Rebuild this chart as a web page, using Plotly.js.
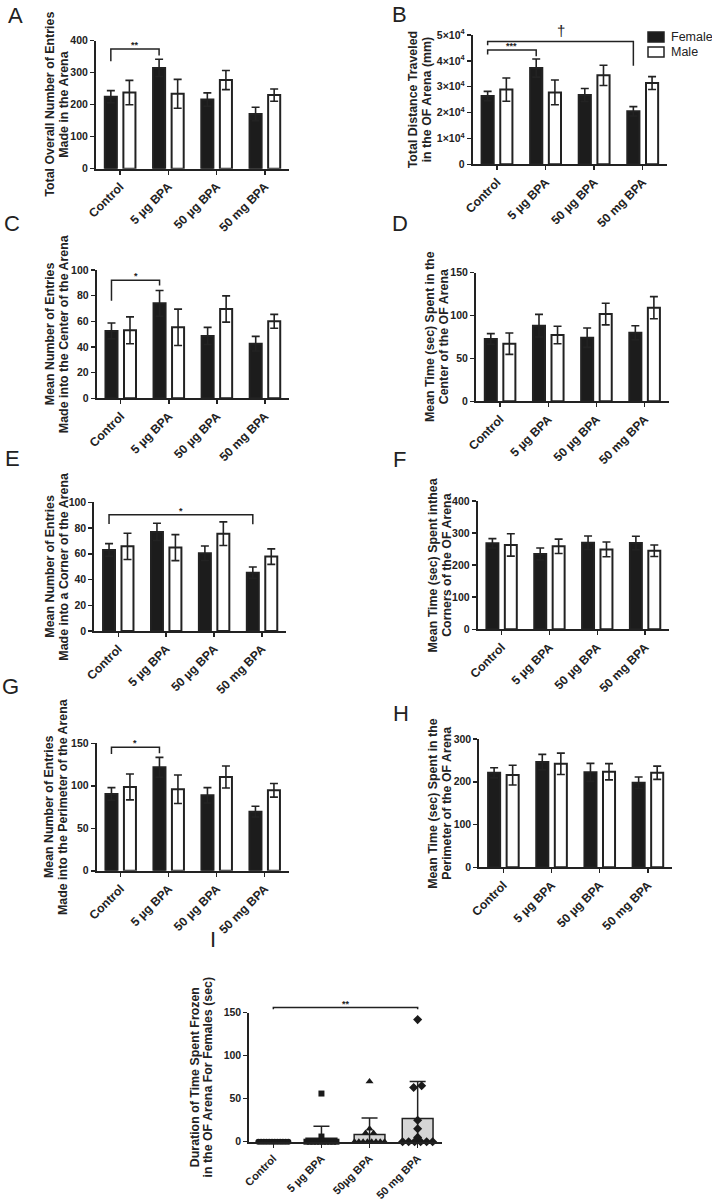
<!DOCTYPE html>
<html><head><meta charset="utf-8">
<script src="https://cdn.plot.ly/plotly-3.0.1.min.js"></script>
<style>html,body{margin:0;padding:0;background:#fff}#chart{width:712px;height:1200px}</style>
</head><body><div id="chart"></div>
<script>
// ---------- DATA ----------
const categories = ['Control', '5 µg BPA', '50 µg BPA', '50 mg BPA'];
const categoriesI = ['Control', '5 µg BPA', '50µg BPA', '50 mg BPA'];
const seriesNames = ['Female', 'Male'];

// A: Total overall number of entries
const femaleA = [225, 315, 216, 171];
const femaleA_sem = [19, 27, 21, 21];
const maleA = [238, 234, 277, 230];
const maleA_sem = [38, 45, 30, 19];

// B: Total distance traveled (mm)
const femaleB = [26400, 37200, 26800, 20500];
const femaleB_sem = [1800, 3500, 2500, 1800];
const maleB = [28900, 27800, 34400, 31400];
const maleB_sem = [4500, 4800, 3900, 2500];
const tickValsB = [0, 10000, 20000, 30000, 40000, 50000];
const tickTextB = ['0', '1×10<sup>4</sup>', '2×10<sup>4</sup>', '3×10<sup>4</sup>', '4×10<sup>4</sup>', '5×10<sup>4</sup>'];

// C: Entries into center
const femaleC = [52.5, 74, 48.6, 42.6];
const femaleC_sem = [6.2, 10, 6.7, 5.7];
const maleC = [53, 55.3, 69.6, 60];
const maleC_sem = [10.5, 14.2, 10.2, 5.4];

// D: Time in center (sec)
const femaleD = [72.7, 88.2, 74.2, 80];
const femaleD_sem = [6.2, 13.2, 11.3, 8.2];
const maleD = [67.2, 77.3, 101.8, 109.2];
const maleD_sem = [12.5, 10.2, 12.6, 12.9];

// E: Entries into a corner
const femaleE = [63, 77, 60.4, 45.3];
const femaleE_sem = [4.9, 6.7, 5.6, 4.4];
const maleE = [65.8, 64.8, 75.6, 57.8];
const maleE_sem = [10.2, 10.1, 9.2, 6];

// F: Time in corners (sec)
const femaleF = [268, 235, 270, 269];
const femaleF_sem = [14.6, 18.5, 21, 21];
const maleF = [263, 258.7, 249, 245];
const maleF_sem = [35, 22.5, 23, 18];

// G: Entries into perimeter
const femaleG = [90.4, 121.8, 88.8, 69.6];
const femaleG_sem = [7.4, 11.7, 9, 6.3];
const maleG = [98.6, 95.9, 110.4, 94.7];
const maleG_sem = [15.2, 16.8, 12.9, 8];

// H: Time in perimeter (sec)
const femaleH = [221, 246, 222, 197.6];
const femaleH_sem = [11.8, 18, 21, 13.4];
const maleH = [215.6, 242, 223.4, 221];
const maleH_sem = [23, 25, 19, 15.5];

// I: Duration frozen, females (sec)
const frozenMean = [0, 4, 8.5, 27];
const frozenSD = [0, 14, 19, 43];
const frozenControl = [0, 0, 0, 0, 0, 0, 0, 0, 0, 0, 0, 0];
const frozen5ug = [56, 6, 0, 0, 0, 0, 0, 0, 0, 0, 0, 0];
const frozen50ug = [70, 15, 10, 10, 0, 0, 0, 0, 0, 0, 0, 0];
const frozen50mg = [142, 65, 63, 25, 15, 5, 0, 0, 0, 0, 0, 0];

// significance brackets: [fromGroup, toGroup, level, leftEnd, rightEnd, label]
const sigA = [[0, 1, 374, 336, 354, '**']];
const sigB = [[0, 1, 44200, 42500, 41800, '***'], [0, 3, 47500, 46000, 38100, '†']];
const sigC = [[0, 1, 92, 76, 88, '*']];
const sigE = [[0, 3, 90.4, 83.2, 83, '*']];
const sigG = [[0, 1, 145.3, 137.5, 138.2, '*']];
const sigI = [[0, 3, 156, 154, 154, '**']];

// ---------- LAYOUT ----------
const W = 712, H = 1200;
const FONT = 'Liberation Sans, Arial, Helvetica, sans-serif';
const INK = '#222';
const BARGAP = 0.23;
const femaleOffset = -(1 - BARGAP) / 4;
const TITLE_SIZE = 12.4;

const panels = [
  {letter: 'A', f: femaleA, fe: femaleA_sem, m: maleA, me: maleA_sem, yMax: 400, dtick: 100, sig: sigA,
   title: ['Total Overall Number of Entries', 'Made in the Arena'], box: [96, 289, 40.7, 168.7], tx: [50, 64], lp: [15, 16]},
  {letter: 'B', f: femaleB, fe: femaleB_sem, m: maleB, me: maleB_sem, yMax: 50000, tickvals: tickValsB, ticktext: tickTextB, sig: sigB,
   title: ['Total Distance Traveled', 'in the OF Arena (mm)'], box: [472.7, 667, 35, 164.3], tx: [412.7, 426.7], lp: [399.5, 14]},
  {letter: 'C', f: femaleC, fe: femaleC_sem, m: maleC, me: maleC_sem, yMax: 100, dtick: 20, sig: sigC,
   title: ['Mean Number of Entries', 'Made into the Center of the Arena'], box: [96.7, 289, 270, 398.3], tx: [50, 64], lp: [11.5, 224]},
  {letter: 'D', f: femaleD, fe: femaleD_sem, m: maleD, me: maleD_sem, yMax: 150, dtick: 50, sig: [],
   title: ['Mean Time (sec) Spent in the', 'Center of the OF Arena'], box: [476, 668.7, 272.7, 401.3], tx: [430, 444.3], lp: [399.5, 224]},
  {letter: 'E', f: femaleE, fe: femaleE_sem, m: maleE, me: maleE_sem, yMax: 100, dtick: 20, sig: sigE,
   title: ['Mean Number of Entries', 'Made into a Corner of the Arena'], box: [94.3, 286, 502.3, 631], tx: [50, 64], lp: [12.5, 458.5]},
  {letter: 'F', f: femaleF, fe: femaleF_sem, m: maleF, me: maleF_sem, yMax: 400, dtick: 100, sig: [],
   title: ['Mean Time (sec) Spent inthea', 'Corners of the OF Arena'], box: [477.7, 669, 501, 629.3], tx: [433.3, 446.7], lp: [399.5, 459]},
  {letter: 'G', f: femaleG, fe: femaleG_sem, m: maleG, me: maleG_sem, yMax: 150, dtick: 50, sig: sigG,
   title: ['Mean Number of Entries', 'Made into the Perimeter of the Arena'], box: [96.7, 288.7, 743.3, 870.8], tx: [49, 63], lp: [10.5, 686.5]},
  {letter: 'H', f: femaleH, fe: femaleH_sem, m: maleH, me: maleH_sem, yMax: 300, dtick: 100, sig: [],
   title: ['Mean Time (sec) Spent in the', 'Perimeter of the OF Arena'], box: [479.3, 672, 739, 867.3], tx: [432.7, 446.7], lp: [401, 713]}
];
const panelI = {letter: 'I', yMax: 150, dtick: 50, sig: sigI, xTickSize: 11,
  title: ['Duration of Time Spent Frozen', 'in the OF Arena For Females (sec)'], box: [249.3, 441.7, 1012.7, 1141.7], tx: [195, 208.3], lp: [213, 939]};

const traces = [];
const layout = {
  width: W, height: H, margin: {l: 0, r: 0, t: 0, b: 0},
  paper_bgcolor: '#fff', plot_bgcolor: 'rgba(0,0,0,0)',
  barmode: 'group', bargap: BARGAP, bargroupgap: 0.35,
  font: {family: FONT, color: INK},
  showlegend: false,
  shapes: [], annotations: []
};

function axisPair(n, p, ticktextX) {
  const s = n === 1 ? '' : String(n);
  const [x0, x1, y0, y1] = p.box;
  layout['xaxis' + s] = {
    domain: [x0 / W, x1 / W], anchor: 'y' + s, range: [-0.5, 3.5],
    tickmode: 'array', tickvals: [0, 1, 2, 3], ticktext: ticktextX, tickangle: -45,
    showline: true, linecolor: INK, linewidth: 2, ticks: 'outside', ticklen: 4, tickwidth: 1.5, tickcolor: INK,
    showgrid: false, zeroline: false, fixedrange: true,
    tickfont: {family: FONT, size: p.xTickSize || 12.2, color: INK, weight: 'bold'}
  };
  const ya = {
    domain: [1 - y1 / H, 1 - y0 / H], anchor: 'x' + s, range: [0, p.yMax],
    showline: true, linecolor: INK, linewidth: 2, ticks: 'outside', ticklen: 4, tickwidth: 1.5, tickcolor: INK,
    showgrid: false, zeroline: false, fixedrange: true,
    tickfont: {family: FONT, size: 10.5, color: INK, weight: 'bold'}
  };
  if (p.tickvals) { ya.tickmode = 'array'; ya.tickvals = p.tickvals; ya.ticktext = p.ticktext; }
  else { ya.tickmode = 'linear'; ya.tick0 = 0; ya.dtick = p.dtick; }
  layout['yaxis' + s] = ya;
  // axis title, one annotation per line
  p.title.forEach((line, k) => {
    layout.annotations.push({xref: 'paper', yref: 'paper', x: p.tx[k] / W, y: 1 - ((y0 + y1) / 2) / H,
      xanchor: 'center', yanchor: 'middle', textangle: -90, showarrow: false, text: line,
      font: {family: FONT, size: TITLE_SIZE, color: INK, weight: 'bold'}});
  });
  // panel letter
  layout.annotations.push({xref: 'paper', yref: 'paper', x: p.lp[0] / W, y: 1 - p.lp[1] / H,
    xanchor: 'center', yanchor: 'middle', showarrow: false, text: p.letter,
    font: {family: FONT, size: 22, color: INK}});
  return s;
}

function addBrackets(s, p, offset, domainMode) {
  p.sig.forEach(b => {
    const [g0, g1, lvl, lEnd, rEnd, label] = b;
    const xa = g0 + offset, xb = g1 + offset;
    const yv = v => domainMode ? v / p.yMax : v;
    const yr = domainMode ? ('y' + s + ' domain') : ('y' + s);
    layout.shapes.push({type: 'path', xref: 'x' + s, yref: yr,
      path: `M ${xa},${yv(lEnd)} L ${xa},${yv(lvl)} L ${xb},${yv(lvl)} L ${xb},${yv(rEnd)}`,
      line: {color: INK, width: 1.5}});
    const isDagger = label === '†';
    layout.annotations.push({xref: 'x' + s, yref: yr, x: (xa + xb) / 2, y: yv(lvl),
      xanchor: 'center', yanchor: 'bottom', showarrow: false, text: label, yshift: isDagger ? 0 : -3,
      font: {family: FONT, size: isDagger ? 15 : 9, color: INK, weight: isDagger ? 'normal' : 'bold'}});
  });
}

panels.forEach((p, i) => {
  const s = axisPair(i + 1, p, categories);
  const xs = [0, 1, 2, 3];
  traces.push({type: 'bar', x: xs, y: p.f, name: seriesNames[0], xaxis: 'x' + s, yaxis: 'y' + s,
    marker: {color: '#1c1c1c', line: {color: INK, width: 2}},
    error_y: {type: 'data', array: p.fe, color: INK, thickness: 1.6, width: 4},
    hoverinfo: 'skip'});
  traces.push({type: 'bar', x: xs, y: p.m, name: seriesNames[1], xaxis: 'x' + s, yaxis: 'y' + s,
    marker: {color: '#ffffff', line: {color: INK, width: 2}},
    error_y: {type: 'data', array: p.me, color: INK, thickness: 1.6, width: 4},
    hoverinfo: 'skip'});
  addBrackets(s, p, femaleOffset, false);
});

// legend (panel B), drawn as layout decorations
[[seriesNames[0], '#1c1c1c', 37], [seriesNames[1], '#ffffff', 52]].forEach(([name, col, cy]) => {
  layout.shapes.push({type: 'rect', xref: 'paper', yref: 'paper', x0: 648 / W, x1: 664 / W,
    y0: 1 - (cy + 5) / H, y1: 1 - (cy - 5) / H, fillcolor: col, line: {color: INK, width: 1.5}});
  layout.annotations.push({xref: 'paper', yref: 'paper', x: 669 / W, y: 1 - cy / H, xanchor: 'left', yanchor: 'middle',
    showarrow: false, text: name, font: {family: FONT, size: 12.5, color: INK}});
});

// Panel I
(function () {
  const p = panelI;
  const s = axisPair(9, p, categoriesI);
  const xs = [0, 1, 2, 3];
  traces.push({type: 'bar', x: xs, y: frozenMean, width: 0.64, xaxis: 'x' + s, yaxis: 'y' + s,
    marker: {color: '#d6d6d6', line: {color: INK, width: 1.5}}, hoverinfo: 'skip',
    error_y: {type: 'data', array: frozenSD, arrayminus: frozenMean.map((m, k) => Math.min(m, frozenSD[k])),
      color: INK, thickness: 1.5, width: 8}});
  const pxPerX = (p.box[1] - p.box[0]) / 4;
  const pxPerY = (p.box[3] - p.box[2]) / p.yMax;
  function swarm(vals, center) {
    const idx = vals.map((v, k) => k).sort((a, b) => vals[a] - vals[b]);
    const out = new Array(vals.length);
    let i = 0;
    while (i < idx.length) {
      let j = i;
      while (j + 1 < idx.length && (vals[idx[j + 1]] - vals[idx[i]]) * pxPerY < 4) j++;
      const n = j - i + 1;
      const step = n > 1 ? Math.min(8, 30 / (n - 1)) : 0;
      for (let k = 0; k < n; k++) out[idx[i + k]] = center + (k - (n - 1) / 2) * step / pxPerX;
      i = j + 1;
    }
    return out;
  }
  const groups = [frozenControl, frozen5ug, frozen50ug, frozen50mg];
  const symbols = ['circle', 'square', 'triangle-up', 'diamond'];
  const sizes = [6, 6, 7, 7];
  groups.forEach((g, k) => {
    traces.push({type: 'scatter', mode: 'markers', x: swarm(g, k), y: g, xaxis: 'x' + s, yaxis: 'y' + s,
      marker: {symbol: symbols[k], size: sizes[k], color: '#1a1a1a'}, cliponaxis: false,
      hoverinfo: 'skip'});
  });
  addBrackets(s, p, 0, true);
})();

Plotly.newPlot('chart', traces, layout, {staticPlot: true, displayModeBar: false});
</script>
</body></html>
